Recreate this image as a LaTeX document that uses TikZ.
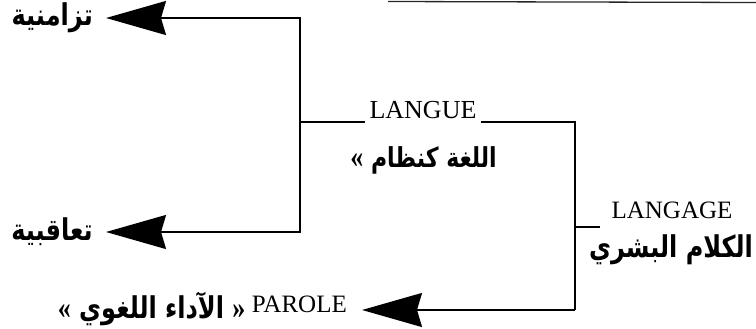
\documentclass[tikz,border=0pt]{standalone}
\usepackage{fontspec}
\usepackage{graphicx}
\setmainfont{Liberation Serif}
\newfontfamily\arabicfont[Script=Arabic]{DejaVu Sans}
\TeXXeTstate=1
\usetikzlibrary{arrows.meta}
\newcommand{\myLq}{{\rmfamily\bfseries\fontsize{26}{30}\selectfont «}}
\newcommand{\myRq}{{\rmfamily\bfseries\fontsize{26}{30}\selectfont »}}
\newcommand{\tallAr}[1]{\scalebox{1}[1.25]{#1}}
\tikzset{
  conn/.style={line width=1.6pt},
  bigarrow/.style={conn,-{Stealth[length=60pt,width=34pt,inset=5pt]}},
  ar/.style={font=\arabicfont\bfseries\fontsize{24}{28}\selectfont, inner sep=0pt},
  lat/.style={font=\fontsize{25}{30}\selectfont, inner sep=0pt}
}
\begin{document}
\begin{tikzpicture}[x=1pt,y=-1pt]
\useasboundingbox (0,0) rectangle (756,329);
% top rule
\draw[line width=1.3pt, black!85] (388,1.5) -- (756,2.5);
% nodes
\node[ar, anchor=east] (tz) at (93,18) {\tallAr{\beginR تزامنية\endR}};
\node[ar, anchor=east] (tq) at (93,232) {\tallAr{\beginR تعاقبية\endR}};
\node[lat, anchor=base, font=\fontsize{26}{30}\selectfont] (langue) at (423,119) {LANGUE};
\node[ar, anchor=east, font=\arabicfont\bfseries\fontsize{22}{26}\selectfont] (lugha) at (497,160) {\tallAr{\myLq\ \beginR اللغة كنظام\endR}};
\node[lat, anchor=base] (langage) at (672,218) {LANGAGE};
\node[ar, anchor=east] (kalam) at (753,250) {\tallAr{\beginR الكلام البشري\endR}};
\node[lat, anchor=base east] (parole) at (347,312) {PAROLE};
\node[ar, anchor=east] (adaa) at ([xshift=-6pt]parole.west |- 0,309) {\tallAr{\myLq\ \beginR الآداء اللغوي\endR\ \myRq}};
% coordinates
\coordinate (jL) at (300,122);
\coordinate (jR) at (575,122);
\coordinate (jT) at (575,227);
\coordinate (jB) at (575,310);
\coordinate (tickend) at (600,227);
% connectors
\draw[bigarrow] (jL) |- ([xshift=13pt]tz.east);
\draw[bigarrow] (jL) |- ([xshift=13pt]tq.east);
\draw[conn] (jL) -- ([xshift=-4pt]langue.west |- jL);
\draw[conn] ([xshift=4pt]langue.east |- jR) -- (jR) -- (jB);
\draw[conn] (jT) -- (tickend);
\draw[bigarrow] (jB) -- ([xshift=15pt]parole.east |- jB);
\end{tikzpicture}
\end{document}
